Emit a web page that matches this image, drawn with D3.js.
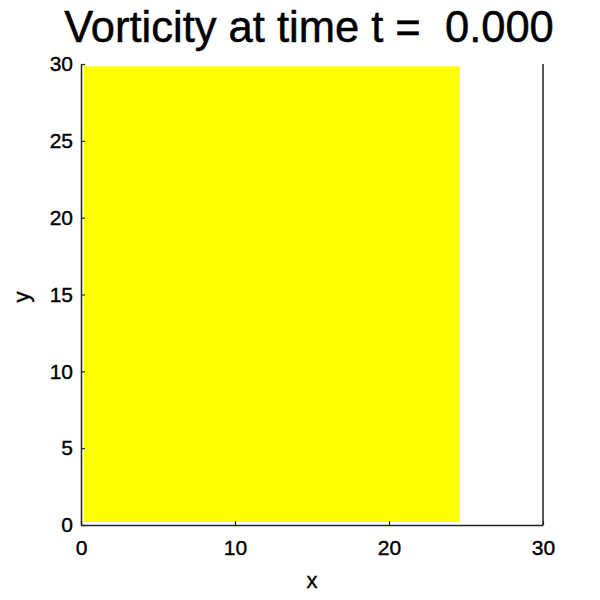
<!DOCTYPE html>
<html>
<head>
<meta charset="utf-8">
<script src="https://cdn.jsdelivr.net/npm/d3@7/dist/d3.min.js"></script>
<style>
  html, body { margin: 0; padding: 0; background: #fff; }
  svg { display: block; }
  text { font-family: "Liberation Sans", Arial, Helvetica, sans-serif; fill: #000; }
</style>
</head>
<body>
<svg id="chart" width="600" height="600"></svg>
<script>
// ---- data ----
const titleText = "Vorticity at time t =  0.000";
const xDomain = [0, 30];
const yDomain = [0, 30];
const xTicks = [0, 10, 20, 30];
const yTicks = [0, 5, 10, 15, 20, 25, 30];
// vorticity field cells (uniform value at t = 0)
const cellX0 = [0.2];
const cellX1 = [24.6];
const cellY0 = [0.2];
const cellY1 = [29.85];
const cellValue = [1];

const cells = cellValue.map((v, i) => ({ x0: cellX0[i], x1: cellX1[i], y0: cellY0[i], y1: cellY1[i], v }));

const svg = d3.select("#chart");
const mLeft = 81, mRight = 543, mTop = 64, mBottom = 525;

const x = d3.scaleLinear().domain(xDomain).range([mLeft, mRight]);
const y = d3.scaleLinear().domain(yDomain).range([mBottom, mTop]);
const color = d3.scaleOrdinal().domain([1]).range(["#ffff00"]);

// field
svg.append("g").selectAll("rect").data(cells).join("rect")
  .attr("x", d => x(d.x0))
  .attr("y", d => y(d.y1))
  .attr("width", d => x(d.x1) - x(d.x0))
  .attr("height", d => y(d.y0) - y(d.y1))
  .attr("fill", d => color(d.v));

// axes
const xAxis = d3.axisBottom(x).tickValues(xTicks).tickFormat(d3.format("d")).tickSizeInner(-4).tickSizeOuter(0).tickPadding(15);
const yAxis = d3.axisLeft(y).tickValues(yTicks).tickFormat(d3.format("d")).tickSizeInner(-4).tickSizeOuter(0).tickPadding(8);

const gx = svg.append("g").attr("transform", `translate(0,${mBottom})`).call(xAxis);
const gy = svg.append("g").attr("transform", `translate(${mLeft},0)`).call(yAxis);
[gx, gy].forEach(g => {
  g.select(".domain").attr("stroke", "#222").attr("stroke-width", 1.5);
  g.selectAll(".tick line").attr("stroke", "#222").attr("stroke-width", 1.2);
  g.selectAll(".tick text").attr("font-size", 21).attr("fill", "#000")
    .attr("stroke", "#000").attr("stroke-width", 0.4)
    .style("font-family", '"Liberation Sans", Arial, sans-serif');
});

// right border line
svg.append("line")
  .attr("x1", x(xDomain[1])).attr("x2", x(xDomain[1]))
  .attr("y1", y(yDomain[0])).attr("y2", y(yDomain[1]))
  .attr("stroke", "#222").attr("stroke-width", 1.5);

// title
svg.append("text")
  .attr("x", 309).attr("y", 42)
  .attr("text-anchor", "middle")
  .attr("font-size", 43.5)
  .attr("stroke", "#000").attr("stroke-width", 0.5)
  .style("white-space", "pre")
  .text(titleText);

// axis labels
svg.append("text")
  .attr("x", 312).attr("y", 588)
  .attr("text-anchor", "middle")
  .attr("font-size", 22)
  .attr("stroke", "#000").attr("stroke-width", 0.4)
  .text("x");

svg.append("text")
  .attr("transform", "translate(29,297) rotate(-90)")
  .attr("text-anchor", "middle")
  .attr("font-size", 22)
  .attr("stroke", "#000").attr("stroke-width", 0.4)
  .text("y");
</script>
</body>
</html>
